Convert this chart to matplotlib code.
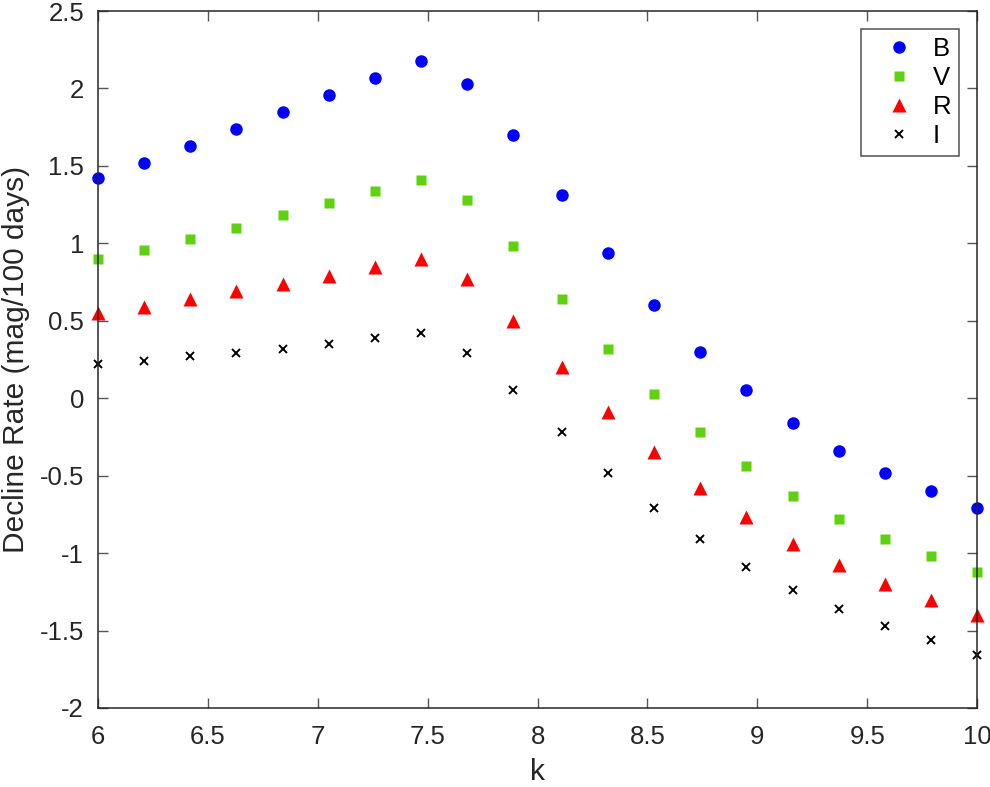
import numpy as np
import matplotlib
matplotlib.use("Agg")
import matplotlib.pyplot as plt

# k grid and decline rates (mag/100 days) per band
k = [6.00, 6.21, 6.42, 6.63, 6.84, 7.05, 7.26, 7.47, 7.68, 7.89,
     8.11, 8.32, 8.53, 8.74, 8.95, 9.16, 9.37, 9.58, 9.79, 10.00]
rate_B = [1.42, 1.52, 1.63, 1.74, 1.85, 1.96, 2.07, 2.18, 2.03, 1.70,
          1.31, 0.94, 0.60, 0.30, 0.05, -0.16, -0.34, -0.48, -0.60, -0.71]
rate_V = [0.90, 0.96, 1.03, 1.10, 1.18, 1.26, 1.34, 1.41, 1.28, 0.98,
          0.64, 0.32, 0.03, -0.22, -0.44, -0.63, -0.78, -0.91, -1.02, -1.12]
rate_R = [0.55, 0.59, 0.64, 0.69, 0.74, 0.79, 0.85, 0.90, 0.77, 0.50,
          0.20, -0.09, -0.35, -0.58, -0.77, -0.94, -1.08, -1.20, -1.30, -1.40]
rate_I = [0.22, 0.24, 0.27, 0.29, 0.32, 0.35, 0.39, 0.42, 0.29, 0.05,
          -0.22, -0.48, -0.71, -0.91, -1.09, -1.24, -1.36, -1.47, -1.56, -1.66]

plt.rcParams['font.family'] = ['Liberation Sans', 'DejaVu Sans']

fig = plt.figure(figsize=(9.9, 7.87), dpi=100)
ax = fig.add_axes([0.099, 0.1004, 0.888, 0.8856])

ax.plot(k, rate_B, 'o', color='#0000ff', ms=9, mec='none', label='B', clip_on=False)
ax.plot(k, rate_V, 's', color='#5fd20f', ms=7.8, mec='none', label='V', clip_on=False)
ax.plot(k, rate_R, '^', color='#ff0000', ms=10, mec='none', label='R', clip_on=False)
ax.plot(k, rate_I, 'x', color='black', ms=6, mew=1.4, label='I', clip_on=False)

ax.set_xlim(6, 10)
ax.set_ylim(-2, 2.5)
ax.set_xticks(np.arange(6, 10.01, 0.5))
ax.set_xticklabels(['6', '6.5', '7', '7.5', '8', '8.5', '9', '9.5', '10'])
ax.set_yticks(np.arange(-2, 2.51, 0.5))
ax.set_yticklabels(['-2', '-1.5', '-1', '-0.5', '0', '0.5', '1', '1.5', '2', '2.5'])
ax.tick_params(direction='in', top=True, right=True, length=7, width=1,
               color='#555555', labelsize=18.5, labelcolor='#262626')
ax.tick_params(axis='x', pad=12)
ax.tick_params(axis='y', pad=10)
for s in ax.spines.values():
    s.set_color('#262626')
    s.set_linewidth(1.1)

ax.set_xlabel('k', fontsize=21.5, color='#262626', labelpad=7)
ax.set_ylabel('Decline Rate (mag/100 days)', fontsize=21.5, color='#262626', labelpad=7)

leg = ax.legend(loc='upper right', fontsize=18.5, frameon=True, fancybox=False,
                edgecolor='#262626', borderaxespad=0.7, handletextpad=0.15,
                labelspacing=0.2, handlelength=2.35, borderpad=0.3)
leg.get_frame().set_linewidth(1.1)

fig.savefig('out.png', dpi=100)
